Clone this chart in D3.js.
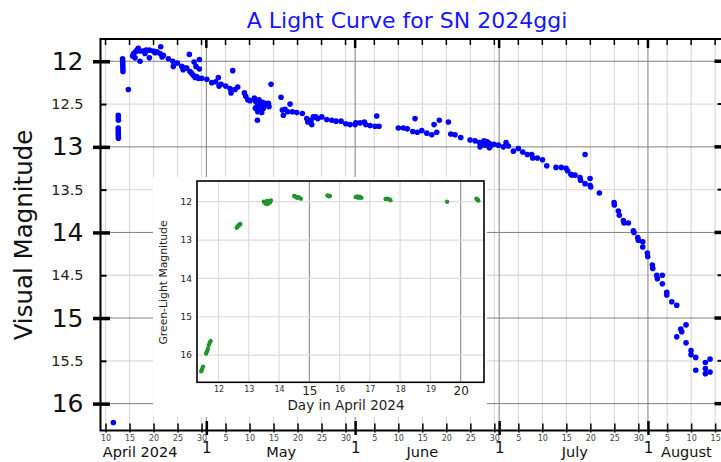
<!DOCTYPE html>
<html><head><meta charset="utf-8">
<script src="https://cdn.jsdelivr.net/npm/d3@7"></script>
<style>body{margin:0;background:#fff}svg{display:block;font-family:"DejaVu Sans",sans-serif}</style>
</head><body><svg id="c" width="721" height="462"></svg>
<script>
// day = days counted from 2024-03-31 (April 1 = 1, May 1 = 31, June 1 = 62, July 1 = 92, Aug 1 = 123)
const visDay = [11.63,12.66,12.67,12.68,12.64,12.65,12.66,12.67,12.68,13.55,13.57,13.59,13.6,13.62,13.64,14.75,
15.67,15.83,16.15,16.25,16.56,16.83,17.19,17.19,17.88,18.23,18.44,19.13,19.13,19.96,20.31,20.73,21.5,21.35,21.77,22.04,
23.08,24.0,24.13,24.96,25.88,26.15,26.56,26.92,27.46,27.6,27.96,28.23,28.44,28.65,28.85,29.0,29.33,29.54,29.54,30.04,
31.1,32.13,32.96,33.5,33.65,34.06,35.04,35.94,36.15,36.5,36.98,37.54,38.92,39.21,39.63,40.1,41.0,41.29,41.5,41.71,41.63,
41.98,42.19,42.54,42.67,43.08,43.23,43.92,44.06,44.48,41.2,42.0,42.9,46.56,46.83,47.04,47.4,47.96,48.44,48.92,49.83,51.0,
51.92,52.13,52.81,52.96,53.29,53.79,54.21,55.04,56.08,57.13,58.02,59.06,60.04,60.94,61.98,62.13,63.02,63.92,64.21,65.1,
66.15,66.5,66.98,71.0,72.04,72.88,74.0,74.48,74.96,75.88,76.92,77.96,78.44,79.0,79.54,81.42,81.92,82.81,84.0,85.94,86.98,
87.88,88.02,88.4,88.85,89.06,89.5,89.96,89.96,90.2,90.94,91.83,92.88,93.44,93.92,94.96,96.0,96.92,97.88,98.79,99.0,99.96,
101.04,101.92,103.85,104.96,105.94,106.25,106.92,107.13,107.81,108.85,108.96,109.9,109.9,110.94,110.94,111.08,112.88,
115.94,116.0,116.83,117.04,117.88,118.02,118.92,119.96,120.1,120.88,121.0,121.92,121.92,122.88,122.96,123.92,124.0,
124.83,124.96,126.0,126.0,126.92,126.92,127.96,129.0,129.0,129.83,130.04,130.94,130.94,131.98,131.98,132.96,132.96,
134.96,134.96,134.96,135.94,135.94];
const visMag = [16.22,12.63,12.66,12.69,12.78,12.81,12.84,12.87,12.9,11.97,12.0,12.03,12.06,12.09,12.12,12.33,
11.94,11.91,11.96,11.89,11.87,11.85,11.88,12.0,11.88,11.91,11.87,11.87,11.96,11.88,11.9,11.89,11.83,11.91,11.95,11.93,
11.97,12.0,12.06,12.02,12.06,12.1,12.08,12.08,11.92,12.12,12.14,12.16,12.01,12.19,12.06,12.18,12.2,11.98,12.09,12.2,
12.21,12.25,12.24,12.19,12.29,12.27,12.29,12.32,12.37,12.11,12.33,12.3,12.37,12.41,12.45,12.46,12.43,12.47,12.53,12.59,12.69,
12.45,12.51,12.6,12.48,12.52,12.49,12.49,12.53,12.27,12.55,12.57,12.55,12.42,12.57,12.63,12.56,12.59,12.5,12.59,12.6,12.61,
12.67,12.71,12.69,12.74,12.65,12.65,12.67,12.65,12.68,12.69,12.7,12.7,12.73,12.74,12.74,12.72,12.72,12.71,12.74,12.75,
12.76,12.64,12.76,12.78,12.78,12.79,12.82,12.67,12.83,12.81,12.84,12.86,12.74,12.83,12.69,12.71,12.85,12.86,12.89,12.92,12.93,
12.95,13.0,12.97,12.93,12.98,12.94,12.96,13.01,12.99,12.97,12.98,13.0,12.95,12.99,13.05,13.02,13.06,13.09,13.09,13.13,13.13,
13.15,13.22,13.24,13.24,13.25,13.28,13.32,13.33,13.33,13.36,13.39,13.09,13.43,13.37,13.45,13.47,13.54,
13.65,13.68,13.75,13.8,13.86,13.89,13.89,13.98,14.0,14.06,14.09,14.11,14.17,14.24,14.28,14.38,14.42,
14.5,14.54,14.5,14.6,14.7,14.73,14.81,14.85,15.22,15.13,15.16,15.08,15.29,15.38,15.43,15.46,15.61,
15.52,15.59,15.65,15.48,15.63];

// inset: day in April 2024
const greenDay = [11.43,11.46,11.49,11.59,11.62,11.65,11.68,11.71,11.74,12.6,12.63,12.66,12.69,12.72,
13.5,13.55,13.6,13.62,13.66,13.7,13.73,14.5,14.55,14.6,14.65,14.72,15.6,15.65,15.68,
16.53,16.58,16.62,16.67,16.72,17.52,17.58,17.65,17.68,19.55,20.52,20.56,20.58];
const greenMag = [16.42,16.36,16.3,15.96,15.9,15.84,15.74,15.68,15.63,12.68,12.65,12.62,12.6,12.58,
12.0,12.05,11.98,12.06,11.99,12.02,11.97,11.85,11.87,11.9,11.88,11.92,11.84,11.86,11.85,
11.88,11.86,11.9,11.87,11.9,11.93,11.92,11.94,11.96,12.0,11.92,11.95,11.97];

const minorTickDays = [10,15,20,25,30,35,40,45,50,55,60,66,71,76,81,86,91,96,101,106,111,116,121,127,132,137];
const minorTickLabels = ["10","15","20","25","30","5","10","15","20","25","30","5","10","15","20","25","30","5","10","15","20","25","30","5","10","15"];
const monthStartDays = [31,62,92,123];
const monthStartLabels = ["1","1","1","1"];
const monthNames = ["April 2024","May","June","July","August"];
const monthLabelDays = [17.2,46.6,76,107.75,131];
const majorMags = [12,13,14,15,16];
const halfMags = [12.5,13.5,14.5,15.5];
const insetDayTicks = [12,13,14,15,16,17,18,19,20];
const insetBigDays = [15,20];
const insetMagTicks = [12,13,14,15,16];

const svg = d3.select("#c");
const L = 100.5, R = 723.5, T = 39, B = 430.5;
const x = d3.scaleLinear().domain([8.95, 138.74]).range([L, R]);
const y = d3.scaleLinear().domain([11.74, 16.314]).range([T, B]);

// title
svg.append("text").attr("x", 407).attr("y", 27.5).attr("text-anchor", "middle")
  .attr("font-size", 22).attr("fill", "#1515ff").text("A Light Curve for SN 2024ggi");

// grid
const grid = svg.append("g");
grid.selectAll(".vmin").data(minorTickDays).join("line")
  .attr("x1", d => x(d)).attr("x2", d => x(d)).attr("y1", T).attr("y2", B)
  .attr("stroke", "#dcdcdc").attr("stroke-width", 1.3);
grid.selectAll(".hhalf").data(halfMags).join("line").attr("class","hh")
  .attr("x1", L).attr("x2", R).attr("y1", d => y(d)).attr("y2", d => y(d))
  .attr("stroke", "#dcdcdc").attr("stroke-width", 1.3);
grid.selectAll(".vmaj").data(monthStartDays).join("line").attr("class","vm")
  .attr("x1", d => x(d)).attr("x2", d => x(d)).attr("y1", T).attr("y2", B)
  .attr("stroke", "#808080").attr("stroke-width", 1);
grid.selectAll(".hint").data(majorMags).join("line").attr("class","hi")
  .attr("x1", L).attr("x2", R).attr("y1", d => y(d)).attr("y2", d => y(d))
  .attr("stroke", "#808080").attr("stroke-width", 1);

// main data
svg.append("g").selectAll("circle").data(visDay).join("circle")
  .attr("cx", d => x(d)).attr("cy", (d, i) => y(visMag[i])).attr("r", 2.8).attr("fill", "#0000ff");

// frame
svg.append("rect").attr("x", L).attr("y", T).attr("width", R - L).attr("height", B - T)
  .attr("fill", "none").attr("stroke", "#000").attr("stroke-width", 2);

// bottom axis (small day labels)
const gB = svg.append("g").attr("transform", `translate(0,${B})`)
  .call(d3.axisBottom(x).tickValues(minorTickDays).tickFormat((d, i) => minorTickLabels[i]).tickSize(2).tickPadding(3));
gB.select(".domain").remove();
gB.selectAll(".tick line").attr("y1", -7).attr("y2", 2).attr("stroke", "#000").attr("stroke-width", 1.5);
gB.selectAll(".tick text").attr("font-size", 8).attr("fill", "#444").attr("font-family", "DejaVu Sans");
// month start ticks with "1"
const gB2 = svg.append("g").attr("transform", `translate(0,${B})`)
  .call(d3.axisBottom(x).tickValues(monthStartDays).tickFormat((d, i) => monthStartLabels[i]).tickSize(4).tickPadding(8));
gB2.select(".domain").remove();
gB2.selectAll(".tick line").attr("y1", -9.5).attr("y2", 4.5).attr("stroke", "#000").attr("stroke-width", 2.5);
gB2.selectAll(".tick text").attr("font-size", 15).attr("fill", "#111").attr("font-family", "DejaVu Sans");
// month names
svg.append("g").selectAll("text").data(monthNames).join("text")
  .attr("x", (d, i) => x(monthLabelDays[i])).attr("y", 457).attr("text-anchor", "middle")
  .attr("font-size", 14.5).attr("fill", "#111").text(d => d);

// top ticks
const gT = svg.append("g");
gT.selectAll(".tm").data(minorTickDays).join("line").attr("class","tm")
  .attr("x1", d => x(d)).attr("x2", d => x(d)).attr("y1", T).attr("y2", T + 6)
  .attr("stroke", "#000").attr("stroke-width", 1.5);
gT.selectAll(".tM").data(monthStartDays).join("line").attr("class","tM")
  .attr("x1", d => x(d)).attr("x2", d => x(d)).attr("y1", T).attr("y2", T + 9)
  .attr("stroke", "#000").attr("stroke-width", 2.5);

// left axis
const gL = svg.append("g").attr("transform", `translate(${L},0)`)
  .call(d3.axisLeft(y).tickValues(majorMags).tickFormat(d3.format("d")).tickSize(7).tickPadding(10));
gL.select(".domain").remove();
gL.selectAll(".tick line").attr("x1", -7.5).attr("x2", 9.5).attr("stroke", "#000").attr("stroke-width", 3.5);
gL.selectAll(".tick text").attr("font-size", 25).attr("fill", "#111").attr("font-family", "DejaVu Sans").attr("x", -17);
const gL2 = svg.append("g").attr("transform", `translate(${L},0)`)
  .call(d3.axisLeft(y).tickValues(halfMags).tickFormat(d3.format(".1f")).tickSize(0).tickPadding(17));
gL2.select(".domain").remove();
gL2.selectAll(".tick line").attr("x1", 0).attr("x2", 6).attr("stroke", "#000").attr("stroke-width", 2);
gL2.selectAll(".tick text").attr("font-size", 14.5).attr("fill", "#222").attr("font-family", "DejaVu Sans");

// right ticks
const gR = svg.append("g");
gR.selectAll(".rM").data(majorMags).join("line").attr("class","rM")
  .attr("x1", R - 9).attr("x2", R + 7).attr("y1", d => y(d)).attr("y2", d => y(d))
  .attr("stroke", "#000").attr("stroke-width", 3.5);
gR.selectAll(".rm").data(halfMags).join("line").attr("class","rm")
  .attr("x1", R - 6).attr("x2", R).attr("y1", d => y(d)).attr("y2", d => y(d))
  .attr("stroke", "#000").attr("stroke-width", 2);

// y title
svg.append("text").attr("transform", "translate(32,235) rotate(-90)").attr("text-anchor", "middle")
  .attr("font-size", 24.5).attr("fill", "#111").text("Visual Magnitude");

// ---------- inset ----------
const iL = 197, iR = 484, iT = 181, iB = 382.3;
const ix = d3.scaleLinear().domain([11.29, 20.77]).range([iL, iR]);
const iy = d3.scaleLinear().domain([11.46, 16.71]).range([iT, iB]);
const ins = svg.append("g");
ins.append("rect").attr("x", 153).attr("y", 177).attr("width", 334).attr("height", 240).attr("fill", "#fff");
ins.selectAll(".ivg").data(insetDayTicks).join("line").attr("class","ivg")
  .attr("x1", d => ix(d)).attr("x2", d => ix(d)).attr("y1", iT).attr("y2", iB)
  .attr("stroke", d => insetBigDays.includes(d) ? "#808080" : "#dcdcdc").attr("stroke-width", d => insetBigDays.includes(d) ? 1 : 1.2);
ins.selectAll(".ihg").data(insetMagTicks).join("line").attr("class","ihg")
  .attr("x1", iL).attr("x2", iR).attr("y1", d => iy(d)).attr("y2", d => iy(d))
  .attr("stroke", "#dcdcdc").attr("stroke-width", 1.2);
ins.append("g").selectAll("circle").data(greenDay).join("circle")
  .attr("cx", d => ix(d)).attr("cy", (d, i) => iy(greenMag[i])).attr("r", 2.2).attr("fill", "#22922a");
ins.append("rect").attr("x", iL).attr("y", iT).attr("width", iR - iL).attr("height", iB - iT)
  .attr("fill", "none").attr("stroke", "#000").attr("stroke-width", 1.6);
const giB = ins.append("g").attr("transform", `translate(0,${iB})`)
  .call(d3.axisBottom(ix).tickValues(insetDayTicks.filter(d => !insetBigDays.includes(d))).tickFormat(d3.format("d")).tickSize(0).tickPadding(4));
giB.select(".domain").remove();
giB.selectAll(".tick text").attr("font-size", 8).attr("fill", "#333").attr("font-family", "DejaVu Sans");
const giB2 = ins.append("g").attr("transform", `translate(0,${iB})`)
  .call(d3.axisBottom(ix).tickValues(insetBigDays).tickFormat(d3.format("d")).tickSize(0).tickPadding(4));
giB2.select(".domain").remove();
giB2.selectAll(".tick text").attr("font-size", 12).attr("fill", "#222").attr("font-family", "DejaVu Sans");
const giL = ins.append("g").attr("transform", `translate(${iL},0)`)
  .call(d3.axisLeft(iy).tickValues(insetMagTicks).tickFormat(d3.format("d")).tickSize(0).tickPadding(5));
giL.select(".domain").remove();
giL.selectAll(".tick text").attr("font-size", 9).attr("fill", "#222").attr("font-family", "DejaVu Sans");
ins.append("text").attr("x", 346).attr("y", 410).attr("text-anchor", "middle")
  .attr("font-size", 13.5).attr("fill", "#222").text("Day in April 2024");
ins.append("text").attr("transform", "translate(167,282.5) rotate(-90)").attr("text-anchor", "middle")
  .attr("font-size", 10.8).attr("fill", "#222").text("Green-Light Magnitude");
</script></body></html>
